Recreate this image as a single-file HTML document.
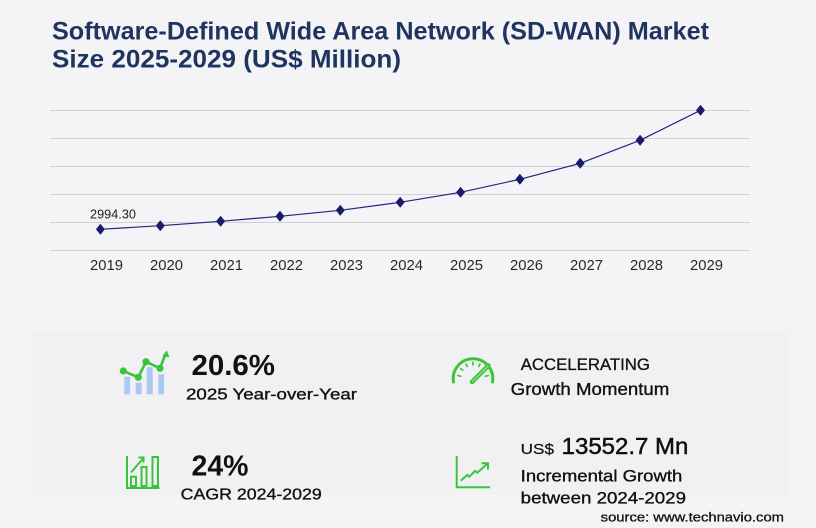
<!DOCTYPE html>
<html><head><meta charset="utf-8"><style>
html,body{margin:0;padding:0;background:#f4f4f6;}
svg{display:block;}
</style></head><body>
<svg width="816" height="528" viewBox="0 0 816 528" xmlns="http://www.w3.org/2000/svg">
<rect x="0" y="0" width="816" height="528" fill="#f4f4f6"/>
<rect x="32" y="330" width="758" height="165" fill="#f1f1f3"/>
<!-- Title -->
<g font-family="Liberation Sans, sans-serif" font-weight="bold" fill="#1e3560" font-size="25">
<text x="52" y="39.5" textLength="657" lengthAdjust="spacingAndGlyphs">Software-Defined Wide Area Network (SD-WAN) Market</text>
<text x="52" y="67.5" textLength="349" lengthAdjust="spacingAndGlyphs">Size 2025-2029 (US$ Million)</text>
</g>
<!-- grid -->
<g stroke="#d2d2d6" stroke-width="1">
<line x1="50" y1="110.5" x2="750" y2="110.5"/>
<line x1="50" y1="138.5" x2="750" y2="138.5"/>
<line x1="50" y1="166.5" x2="750" y2="166.5"/>
<line x1="50" y1="194.5" x2="750" y2="194.5"/>
<line x1="50" y1="222.5" x2="750" y2="222.5"/>
<line x1="50" y1="250.5" x2="750" y2="250.5"/>
</g>
<!-- line -->
<path d="M100.4,229.3 L160.3,225.7 L220.6,221.3 L280,216.3 L340.3,210.3 L400.2,202.3 L460.6,192.3 L519.9,179.3 L580.2,163.3 L640.1,140.3 L700.5,110.3" fill="none" stroke="#23237f" stroke-width="1.2"/>
<g fill="#1a1a6b">
<path d="M100.4,223.8 l4.5,5.5 l-4.5,5.5 l-4.5,-5.5z"/>
<path d="M160.3,220.2 l4.5,5.5 l-4.5,5.5 l-4.5,-5.5z"/>
<path d="M220.6,215.8 l4.5,5.5 l-4.5,5.5 l-4.5,-5.5z"/>
<path d="M280,210.8 l4.5,5.5 l-4.5,5.5 l-4.5,-5.5z"/>
<path d="M340.3,204.8 l4.5,5.5 l-4.5,5.5 l-4.5,-5.5z"/>
<path d="M400.2,196.8 l4.5,5.5 l-4.5,5.5 l-4.5,-5.5z"/>
<path d="M460.6,186.8 l4.5,5.5 l-4.5,5.5 l-4.5,-5.5z"/>
<path d="M519.9,173.8 l4.5,5.5 l-4.5,5.5 l-4.5,-5.5z"/>
<path d="M580.2,157.8 l4.5,5.5 l-4.5,5.5 l-4.5,-5.5z"/>
<path d="M640.1,134.8 l4.5,5.5 l-4.5,5.5 l-4.5,-5.5z"/>
<path d="M700.5,104.8 l4.5,5.5 l-4.5,5.5 l-4.5,-5.5z"/>
</g>
<text x="90" y="218.5" font-family="Liberation Sans, sans-serif" font-size="13" fill="#222" textLength="46" lengthAdjust="spacingAndGlyphs">2994.30</text>
<!-- x labels -->
<g font-family="Liberation Sans, sans-serif" font-size="15" fill="#2a2a2a">
<text x="90" y="270" textLength="33" lengthAdjust="spacingAndGlyphs">2019</text>
<text x="150" y="270" textLength="33" lengthAdjust="spacingAndGlyphs">2020</text>
<text x="210" y="270" textLength="33" lengthAdjust="spacingAndGlyphs">2021</text>
<text x="270" y="270" textLength="33" lengthAdjust="spacingAndGlyphs">2022</text>
<text x="330" y="270" textLength="33" lengthAdjust="spacingAndGlyphs">2023</text>
<text x="390" y="270" textLength="33" lengthAdjust="spacingAndGlyphs">2024</text>
<text x="450" y="270" textLength="33" lengthAdjust="spacingAndGlyphs">2025</text>
<text x="510" y="270" textLength="33" lengthAdjust="spacingAndGlyphs">2026</text>
<text x="570" y="270" textLength="33" lengthAdjust="spacingAndGlyphs">2027</text>
<text x="630" y="270" textLength="33" lengthAdjust="spacingAndGlyphs">2028</text>
<text x="690" y="270" textLength="33" lengthAdjust="spacingAndGlyphs">2029</text>
</g>
<!-- icon 1 -->
<g fill="#a9c9f5">
<rect x="124.3" y="376.7" width="5.7" height="17.6"/>
<rect x="135.7" y="382.7" width="6" height="11.6"/>
<rect x="146.7" y="367.3" width="6" height="27"/>
<rect x="158.3" y="374.3" width="5.7" height="20"/>
</g>
<g stroke="#3ac43a" stroke-width="2.6" fill="none" stroke-linecap="round">
<path d="M123.3,371 L138.3,377.3 L146,361.7 L160,368.3 L165.5,354"/>
</g>
<g fill="#3ac43a">
<circle cx="123.3" cy="371" r="3.6"/>
<circle cx="138.3" cy="377.3" r="3.6"/>
<circle cx="146" cy="361.7" r="3.6"/>
<circle cx="160" cy="368.3" r="3.6"/>
<path d="M166.8,350.5 L169.5,357.5 L162.5,356z"/>
</g>
<!-- icon 2 -->
<g stroke="#3ac43a" stroke-width="2" fill="none">
<path d="M127,456 L127,488 L159.5,488"/>
<rect x="131" y="476.7" width="5" height="9.3"/>
<rect x="141.5" y="467" width="5" height="19"/>
<rect x="152.5" y="457" width="5.5" height="29"/>
<path d="M131,472.5 L143,458.5"/>
<path d="M138.5,457.5 L143.5,457.5 L143.5,462.5"/>
</g>
<!-- icon 3 gauge -->
<g stroke="#3ac43a" fill="none" stroke-linecap="round">
<path d="M453.5,382 A19.8,19.8 0 1 1 492.5,382" stroke-width="3"/>
<g stroke-width="1.6">
<line x1="457.8" y1="375.5" x2="460.6" y2="376.3"/>
<line x1="460.5" y1="368.5" x2="462.8" y2="370.2"/>
<line x1="466" y1="364" x2="467.3" y2="366.5"/>
<line x1="473" y1="362.2" x2="473" y2="365"/>
<line x1="480" y1="364" x2="478.7" y2="366.5"/>
<line x1="488.2" y1="375.5" x2="485.4" y2="376.3"/>
</g>
<path d="M472,382 L488.5,365.5" stroke-width="4.5"/>
<path d="M472.5,381.5 L488,366" stroke="#9fe29f" stroke-width="1.2"/>
</g>
<!-- icon 4 trend -->
<g stroke="#3ac43a" stroke-width="2" fill="none">
<path d="M456.7,456 L456.7,487.3 L490,487.3"/>
<path d="M460.7,480.7 L467.3,475 L469.3,476.7 L475,471 L477.3,472.7 L487,464"/>
<path d="M481.5,463.3 L488,463.3 L488,469.5"/>
</g>
<!-- texts -->
<g font-family="Liberation Sans, sans-serif" fill="#111">
<text x="191.5" y="375" font-size="29" font-weight="bold" textLength="83.5" lengthAdjust="spacingAndGlyphs">20.6%</text>
<text x="186" y="399.3" font-size="16" stroke="#111" stroke-width="0.35" textLength="171" lengthAdjust="spacingAndGlyphs">2025 Year-over-Year</text>
<text x="191.5" y="475.7" font-size="29" font-weight="bold" textLength="57" lengthAdjust="spacingAndGlyphs">24%</text>
<text x="180.7" y="499.3" font-size="16" stroke="#111" stroke-width="0.35" textLength="141" lengthAdjust="spacingAndGlyphs">CAGR 2024-2029</text>
<text x="520.7" y="370" font-size="17" stroke="#111" stroke-width="0.3" textLength="129.3" lengthAdjust="spacingAndGlyphs">ACCELERATING</text>
<text x="510.7" y="395" font-size="17.5" stroke="#111" stroke-width="0.35" textLength="158.6" lengthAdjust="spacingAndGlyphs">Growth Momentum</text>
<text x="520.7" y="454" font-size="15" stroke="#111" stroke-width="0.2" textLength="33.3" lengthAdjust="spacingAndGlyphs">US$</text>
<text x="561.7" y="454" font-size="23" stroke="#111" stroke-width="0.5" textLength="126.6" lengthAdjust="spacingAndGlyphs">13552.7 Mn</text>
<text x="520.7" y="481.7" font-size="17" stroke="#111" stroke-width="0.35" textLength="161.6" lengthAdjust="spacingAndGlyphs">Incremental Growth</text>
<text x="520.7" y="503.3" font-size="17" stroke="#111" stroke-width="0.35" textLength="165.3" lengthAdjust="spacingAndGlyphs">between 2024-2029</text>
<text x="600.7" y="521.7" font-size="13" stroke="#111" stroke-width="0.3" textLength="183.3" lengthAdjust="spacingAndGlyphs">source: www.technavio.com</text>
</g>
</svg>
</body></html>
